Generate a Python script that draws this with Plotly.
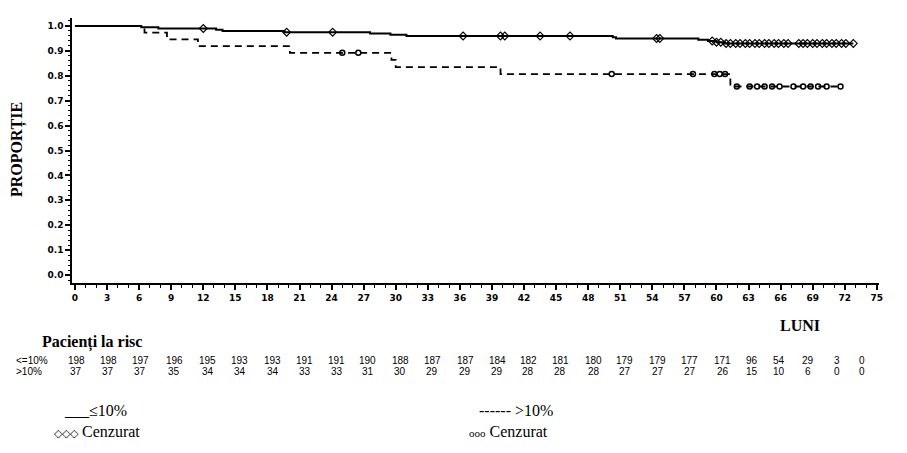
import plotly.graph_objects as go

# ---------------- data ----------------
month_ticks = list(range(0, 76, 3))
y_ticks = [0.0, 0.1, 0.2, 0.3, 0.4, 0.5, 0.6, 0.7, 0.8, 0.9, 1.0]

risk_le10 = [198, 198, 197, 196, 195, 193, 193, 191, 191, 190, 188, 187, 187,
             184, 182, 181, 180, 179, 179, 177, 171, 96, 54, 29, 3, 0]
risk_gt10 = [37, 37, 37, 35, 34, 34, 34, 33, 33, 31, 30, 29, 29,
             29, 28, 28, 28, 27, 27, 27, 26, 15, 10, 6, 0, 0]

# Kaplan-Meier step curves (time in months, survival proportion)
le10_time = [0, 6.2, 7.8, 13.2, 13.8, 19.6, 27.6, 29.5, 31.0, 50.3, 50.6,
             58.3, 59.2, 60.0, 60.8, 72.8]
le10_surv = [1.0, 0.995, 0.990, 0.985, 0.980, 0.975, 0.970, 0.965, 0.960, 0.955,
             0.950, 0.945, 0.940, 0.935, 0.930, 0.930]

gt10_time = [0, 6.5, 8.6, 11.5, 20.1, 29.6, 30.0, 39.8, 61.3, 71.6]
gt10_surv = [1.0, 0.973, 0.946, 0.919, 0.892, 0.864, 0.835, 0.807, 0.757, 0.757]

# censored observations (months)
le10_cens = [12.0, 19.8, 24.1, 36.3, 39.8, 40.2, 43.5, 46.3, 54.4, 54.7,
             59.6, 60.0, 60.4, 60.9, 61.3, 61.8, 62.2, 62.7, 63.1, 63.6, 64.0,
             64.5, 64.9, 65.4, 65.8, 66.3, 66.7, 67.7, 68.1, 68.5, 69.0, 69.4,
             69.9, 70.3, 70.8, 71.2, 71.7, 72.1, 72.8]
gt10_cens = [25.0, 26.5, 50.2, 57.8, 59.8, 60.3, 60.8, 61.9, 63.1, 63.8, 64.5,
             65.2, 65.9, 67.2, 68.1, 68.8, 69.5, 70.3, 71.6]

# column centres of the "at risk" table (layout positions, in month units)
risk_col_pos = [0.1, 3.1, 6.1, 9.3, 12.4, 15.4, 18.5, 21.5, 24.5, 27.4, 30.4,
                33.4, 36.5, 39.5, 42.4, 45.4, 48.5, 51.4, 54.5, 57.5, 60.6,
                63.3, 65.8, 68.6, 71.3, 73.6]


def surv_at(t, times, survs):
    s = survs[0]
    for tt, ss in zip(times, survs):
        if tt <= t:
            s = ss
    return s


fig = go.Figure()

fig.add_trace(go.Scatter(x=le10_time, y=le10_surv, mode="lines",
                         line=dict(color="black", width=2, shape="hv"),
                         hoverinfo="skip"))
fig.add_trace(go.Scatter(x=gt10_time, y=gt10_surv, mode="lines",
                         line=dict(color="black", width=1.8, shape="hv",
                                   dash="7px,5px"),
                         hoverinfo="skip"))
fig.add_trace(go.Scatter(x=le10_cens,
                         y=[surv_at(t, le10_time, le10_surv) for t in le10_cens],
                         mode="markers",
                         marker=dict(symbol="diamond-open", size=6, color="black",
                                     line=dict(width=1.2, color="black"))))
fig.add_trace(go.Scatter(x=gt10_cens,
                         y=[surv_at(t, gt10_time, gt10_surv) for t in gt10_cens],
                         mode="markers",
                         marker=dict(symbol="circle-open", size=5, color="black",
                                     line=dict(width=1.5, color="black"))))

tickfont = dict(family="DejaVu Sans", size=9, color="black", weight="bold")

fig.update_xaxes(range=[-0.28, 75.2], tickvals=month_ticks,
                 ticktext=[str(m) for m in month_ticks],
                 ticks="outside", ticklen=5, tickwidth=1.5, tickcolor="black",
                 minor=dict(dtick=1, ticks="outside", ticklen=3, tickwidth=1,
                            tickcolor="black"),
                 showline=True, linewidth=1.5, linecolor="black",
                 showgrid=False, zeroline=False, tickfont=tickfont)
fig.update_yaxes(range=[-0.032, 1.032], tickvals=y_ticks,
                 ticktext=[f"{v:.1f}" for v in y_ticks],
                 ticks="outside", ticklen=5, tickwidth=1.5, tickcolor="black",
                 minor=dict(dtick=0.02, ticks="outside", ticklen=2, tickwidth=1,
                            tickcolor="black"),
                 showline=True, linewidth=1.5, linecolor="black",
                 showgrid=False, zeroline=False, tickfont=tickfont)

serif = "Liberation Serif, Times New Roman, serif"
narrow = "Liberation Sans Narrow, Arial Narrow, Liberation Sans, Arial"
ann = []
ann.append(dict(text="PROPORȚIE", textangle=-90, xref="paper", yref="paper",
                x=-0.0669, y=0.502, xanchor="center", yanchor="middle",
                showarrow=False,
                font=dict(family=serif, size=16, color="black", weight="bold")))
ann.append(dict(text="LUNI", xref="paper", yref="paper", x=0.902, y=-0.1585,
                xanchor="center", yanchor="middle", showarrow=False,
                font=dict(family=serif, size=16, color="black", weight="bold")))
ann.append(dict(text="Pacienți la risc", xref="paper", yref="paper",
                x=-0.0397, y=-0.2264, xanchor="left", yanchor="middle",
                showarrow=False,
                font=dict(family=serif, size=16, color="black", weight="bold")))
row_y = [-0.2943, -0.3321]
for lab, yy in zip(["<=10%", ">10%"], row_y):
    ann.append(dict(text=lab, xref="paper", yref="paper", x=-0.0719, y=yy,
                    xanchor="left", yanchor="middle", showarrow=False,
                    font=dict(family=narrow, size=10, color="black")))
for vals, yy in zip([risk_le10, risk_gt10], row_y):
    for xp, v in zip(risk_col_pos, vals):
        ann.append(dict(text=str(v), xref="x", yref="paper", x=xp, y=yy,
                        xanchor="center", yanchor="middle", showarrow=False,
                        font=dict(family=narrow, size=10, color="black")))

leg_font = dict(family=serif, size=16, color="black")
ann.append(dict(text="___≤10%", xref="paper", yref="paper", x=-0.0124, y=-0.483,
                xanchor="left", yanchor="middle", showarrow=False, font=leg_font))
ann.append(dict(text="<span style='font-size:11px'>◇◇◇</span> Cenzurat",
                xref="paper", yref="paper", x=-0.0248, y=-0.5585,
                xanchor="left", yanchor="middle", showarrow=False, font=leg_font))
ann.append(dict(text="------ >10%", xref="paper", yref="paper", x=0.5019, y=-0.483,
                xanchor="left", yanchor="middle", showarrow=False, font=leg_font))
ann.append(dict(text="<span style='font-size:11px'>ooo</span> Cenzurat",
                xref="paper", yref="paper", x=0.4895, y=-0.5585,
                xanchor="left", yanchor="middle", showarrow=False, font=leg_font))

fig.update_layout(width=907, height=453,
                  margin=dict(l=72, r=28, t=18, b=170),
                  plot_bgcolor="white", paper_bgcolor="white",
                  showlegend=False, annotations=ann)

fig.write_html("out.html")
